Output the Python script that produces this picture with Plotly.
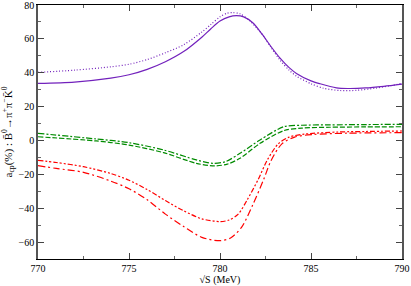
import plotly.graph_objects as go

# ---- data ----
x_sol = [770, 772, 774, 775, 776, 777, 778, 779, 779.5, 780, 780.5, 780.9, 781.3, 781.8, 782.3,
         782.8, 783.3, 783.8, 784.2, 785, 785.5, 786.4, 787, 788, 789, 790]
y_sol = [33.7, 34.5, 36.8, 38.8, 42, 46.5, 52.5, 61, 66, 70.5, 73, 73.7, 73, 69.5, 63,
         55.5, 48.6, 43, 39.6, 35.2, 33.5, 31.1, 30.7, 31, 32, 33.3]

x_dot = [770, 772, 774, 775, 776, 777, 778, 779, 779.5, 780, 780.4, 780.7, 781.1, 781.6, 782.3,
         782.8, 783.3, 783.8, 784.2, 785, 785.7, 786.6, 787.5, 788.5, 789.3, 790]
y_dot = [40.2, 41.5, 43.5, 45, 47.8, 51.8, 56.5, 64, 68.5, 73, 75.2, 75.5, 74.8, 71, 63,
         55, 47.4, 41.5, 38, 33.5, 30.8, 29.5, 29.6, 30.8, 32.2, 33.7]

x_gdd = [770, 773.2, 775, 776.9, 778.7, 779.6, 780.3, 781.1, 782.2, 783.5, 784.5, 786, 788, 790]
y_gdd = [4.2, 0.9, -1.3, -5.6, -11.5, -13.5, -12.5, -7.6, 0.3, 8.1, 9.0, 9.2, 9.4, 9.5]

x_gda = [770, 773.2, 775, 776.9, 778.7, 779.7, 780.4, 781.1, 782.2, 783.5, 784.5, 786, 788, 790]
y_gda = [2.2, -0.3, -2.7, -7.2, -13.5, -15.0, -14, -10.5, -1.7, 5.8, 7.3, 7.8, 8.0, 8.1]

x_rup = [770, 771, 772.5, 774, 775, 776, 777, 778, 779, 780, 780.5, 781, 781.5, 782.1, 782.6,
         783.2, 783.8, 784.7, 786.5, 788, 790]
y_rup = [-11.7, -13, -15.5, -19.5, -23.5, -29, -35.5, -41.5, -46.3, -47.9, -47, -43.5, -35, -23, -11.5,
         -2, 2, 3.8, 5, 5.3, 5.6]

x_rlo = [770, 771, 772.5, 774, 775, 776, 777, 778, 779, 780, 780.6, 781.2, 781.8, 782.4, 782.8,
         783.4, 784.1, 785.1, 787, 790]
y_rlo = [-14.9, -16.5, -18.8, -24, -28.5, -35, -43.5, -50.8, -57.2, -59.2, -57.5, -51, -38, -23, -12,
         -2, 2, 3.5, 4.3, 4.6]

x_ticks = [770, 775, 780, 785, 790]
y_ticks = [-60, -40, -20, 0, 20, 40, 60, 80]

PURPLE = "rgb(114,33,188)"
GREEN = "rgb(0,139,0)"
RED = "rgb(255,0,0)"

fig = go.Figure()
def add(x, y, color, dash):
    fig.add_trace(go.Scatter(x=x, y=y, mode="lines",
                             line=dict(color=color, width=1.2, dash=dash, shape="spline", smoothing=0.8),
                             showlegend=False, hoverinfo="skip"))

add(x_sol, y_sol, PURPLE, "solid")
add(x_dot, y_dot, PURPLE, "1px,2px")
add(x_gdd, y_gdd, GREEN, "6px,2px,2px,2px")
add(x_gda, y_gda, GREEN, "5px,2px")
add(x_rup, y_rup, RED, "5px,2px,2px,2px,2px,2px")
add(x_rlo, y_rlo, RED, "7px,3px,2px,3px")

font = dict(family="Liberation Serif, Times New Roman, serif", size=10, color="black")
tfont = dict(family="Liberation Serif, Times New Roman, serif", size=11, color="black")

fig.update_layout(
    width=411, height=286,
    margin=dict(l=38, r=9, t=5, b=27, autoexpand=False),
    paper_bgcolor="white", plot_bgcolor="white",
    font=font,
)
fig.update_xaxes(range=[770, 790], tickvals=x_ticks, ticks="inside", ticklen=6,
                 tickcolor="#444", showline=True, linecolor="black", linewidth=1.2,
                 mirror="ticks", showgrid=False, zeroline=False, automargin=False,
                 ticklabeloverflow="allow",
                 minor=dict(dtick=2.5, tick0=770, ticks="inside", ticklen=3, tickcolor="#666"),
                 title=dict(text="√S (MeV)", font=font, standoff=4),
                 tickfont=font)
fig.update_yaxes(range=[-70, 80], tickvals=y_ticks, ticks="inside", ticklen=6,
                 tickcolor="#444", showline=True, linecolor="#555", linewidth=1.5,
                 mirror="ticks", showgrid=False, zeroline=False, automargin=False,
                 ticklabeloverflow="allow",
                 minor=dict(dtick=10, tick0=0, ticks="inside", ticklen=3, tickcolor="#666"),
                 title=dict(text="a<sub>cp</sub>(%) : B̄<sup>0</sup>→π<sup>+</sup>π<sup>−</sup>K̄<sup>0</sup>",
                            font=tfont, standoff=6),
                 tickfont=font)

fig.write_html("out.html", config={"displayModeBar": False},
               post_script="document.body.style.margin='0';document.body.style.overflow='hidden';")
